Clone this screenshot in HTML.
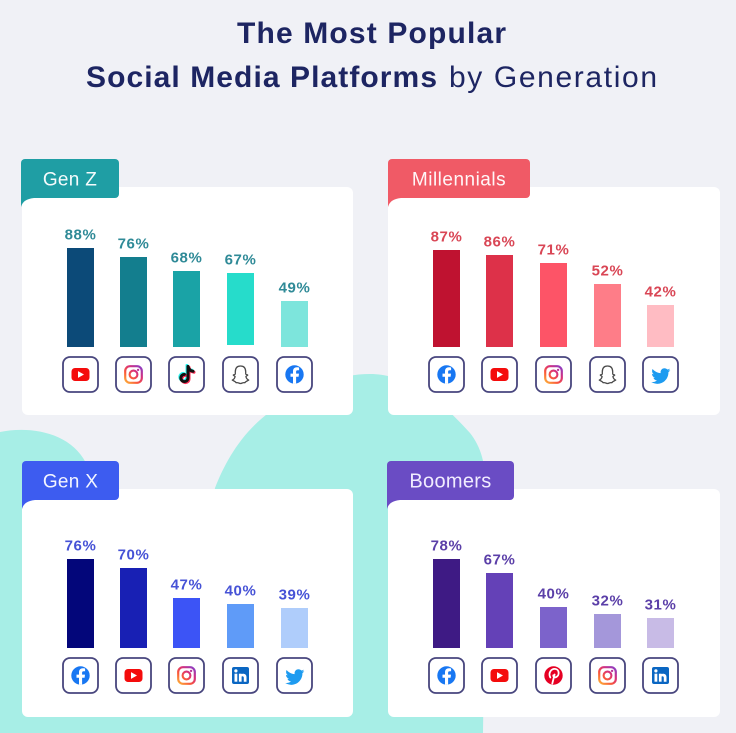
<!DOCTYPE html>
<html><head><meta charset="utf-8"><style>
html,body{margin:0;padding:0;background:#f0f1f6;}
svg{display:block;}
</style></head><body>
<svg width="736" height="733" viewBox="0 0 736 733" xmlns="http://www.w3.org/2000/svg" font-family="'Liberation Sans', sans-serif">
<defs>
<linearGradient id="ig" gradientUnits="userSpaceOnUse" x1="-8" y1="9" x2="8" y2="-9">
<stop offset="0" stop-color="#fdb53a"/><stop offset="0.35" stop-color="#f9573c"/><stop offset="0.65" stop-color="#d6307d"/><stop offset="1" stop-color="#8040d0"/>
</linearGradient>
<g id="yt"><rect x="-9" y="-6.5" width="18" height="13" rx="3.5" fill="#f40c0c"/><path d="M-2.5 -3.4 L-2.5 3.4 L3.5 0 Z" fill="#fff"/></g>
<g id="ins"><rect x="-8.3" y="-8.3" width="16.6" height="16.6" rx="4.8" fill="none" stroke="url(#ig)" stroke-width="2.2"/><circle cx="0" cy="0" r="3.9" fill="none" stroke="url(#ig)" stroke-width="2.1"/><circle cx="4.6" cy="-4.6" r="1.2" fill="url(#ig)"/></g>
<g id="tt" fill="none" stroke-width="3" stroke-linecap="round">
<g transform="translate(-1,-1)" stroke="#25f4ee"><path d="M1.5 -8 V3.5 A3.6 3.6 0 1 1 -2.1 -0.1"/><path d="M1.5 -8 C2.2 -5 4 -3.5 6.5 -3.3"/></g>
<g transform="translate(1,1)" stroke="#fe2c55"><path d="M1.5 -8 V3.5 A3.6 3.6 0 1 1 -2.1 -0.1"/><path d="M1.5 -8 C2.2 -5 4 -3.5 6.5 -3.3"/></g>
<g stroke="#111"><path d="M1.5 -8 V3.5 A3.6 3.6 0 1 1 -2.1 -0.1"/><path d="M1.5 -8 C2.2 -5 4 -3.5 6.5 -3.3"/></g>
</g>
<g id="sc"><path d="M0 -8.5 C-4 -8.5 -5.2 -5.5 -5.2 -2.5 L-5.2 -0.5 L-7.2 0.6 L-5.4 2 C-5.8 4 -7.2 5.2 -8.2 5.6 C-6.6 6.6 -5.2 6.8 -4.4 8.2 C-2.4 7.8 -1.2 9 0 9 C1.2 9 2.4 7.8 4.4 8.2 C5.2 6.8 6.6 6.6 8.2 5.6 C7.2 5.2 5.8 4 5.4 2 L7.2 0.6 L5.2 -0.5 L5.2 -2.5 C5.2 -5.5 4 -8.5 0 -8.5 Z" fill="#fff" stroke="#4a4a4a" stroke-width="1.3" stroke-linejoin="round"/></g>
<g id="fb"><circle r="9.2" fill="#1877f2"/><path d="M1.6 9.2 V2.2 H4.1 L4.5 -0.9 H1.6 V-2.8 C1.6 -3.7 2 -4.3 3.2 -4.3 H4.6 V-7 C4.1 -7.1 3.3 -7.2 2.4 -7.2 C0.1 -7.2 -1.5 -5.8 -1.5 -3.2 V-0.9 H-4 V2.2 H-1.5 V9.2 Z" fill="#fff"/></g>
<g id="tw"><path transform="translate(-10,-8.5) scale(0.84)" d="M23.643 4.937c-.835.37-1.732.62-2.675.733.962-.576 1.7-1.49 2.048-2.578-.9.534-1.897.922-2.958 1.13-.85-.904-2.06-1.47-3.4-1.47-2.572 0-4.658 2.086-4.658 4.66 0 .364.042.718.12 1.06-3.873-.195-7.304-2.05-9.602-4.868-.4.69-.63 1.49-.63 2.342 0 1.616.823 3.043 2.072 3.878-.764-.025-1.482-.234-2.11-.583v.06c0 2.257 1.605 4.14 3.737 4.568-.392.106-.803.162-1.227.162-.3 0-.593-.028-.877-.082.593 1.85 2.313 3.198 4.352 3.234-1.595 1.25-3.604 1.995-5.786 1.995-.376 0-.747-.022-1.112-.065 2.062 1.323 4.51 2.093 7.14 2.093 8.57 0 13.255-7.098 13.255-13.254 0-.2-.005-.402-.014-.602.91-.658 1.7-1.477 2.323-2.41z" fill="#1d9bf0"/></g>
<g id="li"><rect x="-8.5" y="-8.5" width="17" height="17" rx="2" fill="#0a66c2"/><circle cx="-4.6" cy="-4.6" r="1.6" fill="#fff"/><rect x="-6" y="-1.8" width="2.8" height="8" fill="#fff"/><rect x="-1.6" y="-1.8" width="2.7" height="8" fill="#fff"/><path d="M-1 0.5 C0 -2.4 6 -2.8 6 1.6 V6.2 H3.3 V2.2 C3.3 0.2 0.6 0.2 0.6 2.2 Z" fill="#fff"/></g>
<g id="pi"><circle r="9.2" fill="#e60023"/><path d="M-1.2 8 L1.1 -1" stroke="#fff" stroke-width="1.8" fill="none" stroke-linecap="round"/><path d="M-3.2 2 C-5.6 -2.6 -2.2 -6.8 1.5 -6.6 C6 -6.3 6.3 0.2 2.6 1.6 C0.8 2.3 -0.4 1.2 -0.2 -0.2" stroke="#fff" stroke-width="1.8" fill="none" stroke-linecap="round"/></g>
</defs>

<rect width="736" height="733" fill="#f0f1f6"/>
<path d="M 0 432 C 30 426, 70 432, 86 463 L 110 540 L 205 540 L 215 488 C 225 462, 242 432, 270 412 C 300 390, 335 374, 370 374 C 410 374, 445 405, 470 433 C 482 448, 487 468, 486 500 L 483 733 L 0 733 Z" fill="#a7eee6"/>

<!-- Title -->
<text x="237" y="43" font-size="30" font-weight="700" fill="#1d2562" textLength="269" lengthAdjust="spacing">The Most Popular</text>
<text x="86" y="87" font-size="30" font-weight="700" fill="#1d2562" textLength="351" lengthAdjust="spacing">Social Media Platforms</text>
<text x="449" y="87" font-size="30" font-weight="400" fill="#1d2562" textLength="208" lengthAdjust="spacing">by Generation</text>

<!-- Cards -->
<rect x="22" y="187" width="331" height="228" rx="6" fill="#fff"/>
<rect x="388" y="187" width="332" height="228" rx="6" fill="#fff"/>
<rect x="22" y="489" width="331" height="228" rx="6" fill="#fff"/>
<rect x="388" y="489" width="332" height="228" rx="6" fill="#fff"/>

<!-- Tabs -->
<g fill="#1f9ea4"><rect x="21" y="159" width="98" height="39" rx="4"/><path d="M21 192 L21 207 Q23 199 34 198 L34 192 Z"/></g>
<text x="70" y="185.5" font-size="19" fill="#f5fbfc" text-anchor="middle" letter-spacing="0.3">Gen Z</text>
<g fill="#f05a66"><rect x="388" y="159" width="142" height="39" rx="4"/><path d="M388 192 L388 207 Q390 199 401 198 L401 192 Z"/></g>
<text x="459" y="185.5" font-size="19" fill="#fff6f7" text-anchor="middle" letter-spacing="0.5">Millennials</text>
<g fill="#3d5cf0"><rect x="22" y="461" width="97" height="39" rx="4"/><path d="M22 494 L22 509 Q24 501 35 500 L35 494 Z"/></g>
<text x="70.5" y="487.5" font-size="19" fill="#f3f5ff" text-anchor="middle" letter-spacing="0.3">Gen X</text>
<g fill="#6a4cc4"><rect x="387" y="461" width="127" height="39" rx="4"/><path d="M387 494 L387 509 Q389 501 400 500 L400 494 Z"/></g>
<text x="450.5" y="487.5" font-size="20" fill="#f1ecff" text-anchor="middle" letter-spacing="0.3">Boomers</text>

<!-- Gen Z bars -->
<g>
<rect x="67" y="248" width="27" height="99" fill="#0c4a78"/>
<rect x="120" y="257" width="27" height="90" fill="#137e8e"/>
<rect x="173" y="271" width="27" height="76" fill="#1aa3a6"/>
<rect x="227" y="273" width="27" height="72" fill="#26dccb"/>
<rect x="281" y="301" width="27" height="46" fill="#7de5dc"/>
</g>
<g font-size="15" font-weight="700" fill="#2f8a97" text-anchor="middle" letter-spacing="0.6">
<text x="80.5" y="239.5">88%</text><text x="133.5" y="248.5">76%</text><text x="186.5" y="262.5">68%</text><text x="240.5" y="264.5">67%</text><text x="294.5" y="292.5">49%</text>
</g>

<!-- Millennials bars -->
<g>
<rect x="433" y="250" width="27" height="97" fill="#bf1230"/>
<rect x="486" y="255" width="27" height="92" fill="#dd3149"/>
<rect x="540" y="263" width="27" height="84" fill="#fd5467"/>
<rect x="594" y="284" width="27" height="63" fill="#fe7d88"/>
<rect x="647" y="305" width="27" height="42" fill="#ffbcc3"/>
</g>
<g font-size="15" font-weight="700" fill="#d94655" text-anchor="middle" letter-spacing="0.6">
<text x="446.5" y="241.5">87%</text><text x="499.5" y="246.5">86%</text><text x="553.5" y="254.5">71%</text><text x="607.5" y="275.5">52%</text><text x="660.5" y="296.5">42%</text>
</g>

<!-- Gen X bars -->
<g>
<rect x="67" y="559" width="27" height="89" fill="#03067a"/>
<rect x="120" y="568" width="27" height="80" fill="#1820b4"/>
<rect x="173" y="598" width="27" height="50" fill="#3c54f6"/>
<rect x="227" y="604" width="27" height="44" fill="#5f9bf8"/>
<rect x="281" y="608" width="27" height="40" fill="#afcdfb"/>
</g>
<g font-size="15" font-weight="700" fill="#4652d6" text-anchor="middle" letter-spacing="0.6">
<text x="80.5" y="550.5">76%</text><text x="133.5" y="559.5">70%</text><text x="186.5" y="589.5">47%</text><text x="240.5" y="595.5">40%</text><text x="294.5" y="599.5">39%</text>
</g>

<!-- Boomers bars -->
<g>
<rect x="433" y="559" width="27" height="89" fill="#3e1a84"/>
<rect x="486" y="573" width="27" height="75" fill="#6441b7"/>
<rect x="540" y="607" width="27" height="41" fill="#7c63cb"/>
<rect x="594" y="614" width="27" height="34" fill="#a497da"/>
<rect x="647" y="618" width="27" height="30" fill="#c8bbe6"/>
</g>
<g font-size="15" font-weight="700" fill="#5b3fa8" text-anchor="middle" letter-spacing="0.6">
<text x="446.5" y="550.5">78%</text><text x="499.5" y="564.5">67%</text><text x="553.5" y="598.5">40%</text><text x="607.5" y="605.5">32%</text><text x="660.5" y="609.5">31%</text>
</g>

<!-- Icon boxes -->
<g fill="#fff" stroke="#48467e" stroke-width="1.8">
<rect x="63" y="357" width="35" height="35" rx="7"/><rect x="116" y="357" width="35" height="35" rx="7"/><rect x="169" y="357" width="35" height="35" rx="7"/><rect x="223" y="357" width="35" height="35" rx="7"/><rect x="277" y="357" width="35" height="35" rx="7"/>
<rect x="429" y="357" width="35" height="35" rx="7"/><rect x="482" y="357" width="35" height="35" rx="7"/><rect x="536" y="357" width="35" height="35" rx="7"/><rect x="590" y="357" width="35" height="35" rx="7"/><rect x="643" y="357" width="35" height="35" rx="7"/>
<rect x="63" y="658" width="35" height="35" rx="7"/><rect x="116" y="658" width="35" height="35" rx="7"/><rect x="169" y="658" width="35" height="35" rx="7"/><rect x="223" y="658" width="35" height="35" rx="7"/><rect x="277" y="658" width="35" height="35" rx="7"/>
<rect x="429" y="658" width="35" height="35" rx="7"/><rect x="482" y="658" width="35" height="35" rx="7"/><rect x="536" y="658" width="35" height="35" rx="7"/><rect x="590" y="658" width="35" height="35" rx="7"/><rect x="643" y="658" width="35" height="35" rx="7"/>
</g>

<!-- Icons -->
<use href="#yt" x="80.5" y="374.5"/><use href="#ins" x="133.5" y="374.5"/><use href="#tt" x="186.5" y="374.5"/><use href="#sc" x="240.5" y="374.5"/><use href="#fb" x="294.5" y="374.5"/>
<use href="#fb" x="446.5" y="374.5"/><use href="#yt" x="499.5" y="374.5"/><use href="#ins" x="553.5" y="374.5"/><use href="#sc" x="607.5" y="374.5"/><use href="#tw" x="660.5" y="374.5"/>
<use href="#fb" x="80.5" y="675.5"/><use href="#yt" x="133.5" y="675.5"/><use href="#ins" x="186.5" y="675.5"/><use href="#li" x="240.5" y="675.5"/><use href="#tw" x="294.5" y="675.5"/>
<use href="#fb" x="446.5" y="675.5"/><use href="#yt" x="499.5" y="675.5"/><use href="#pi" x="553.5" y="675.5"/><use href="#ins" x="607.5" y="675.5"/><use href="#li" x="660.5" y="675.5"/>
</svg>
</body></html>
